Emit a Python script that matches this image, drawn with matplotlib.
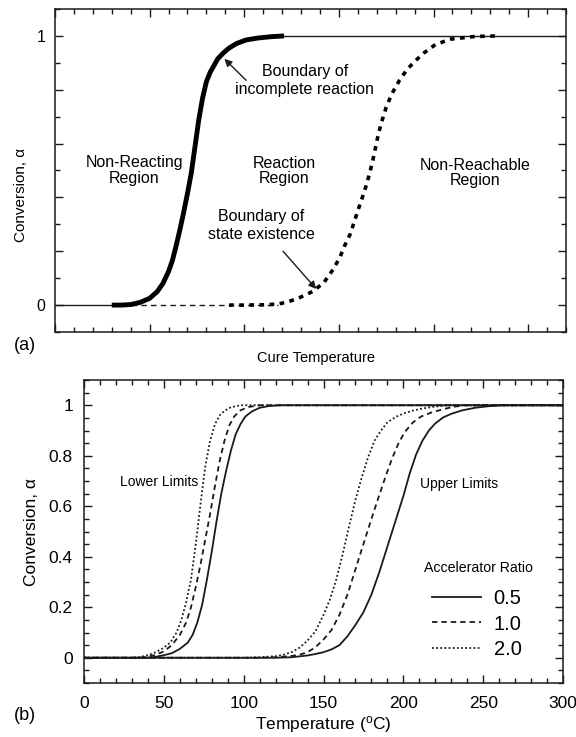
import numpy as np
import matplotlib
matplotlib.use("Agg")
import matplotlib.pyplot as plt
from matplotlib.ticker import MultipleLocator, FixedLocator, FixedFormatter

plt.rcParams['font.family'] = ['Liberation Sans', 'DejaVu Sans']
plt.rcParams['mathtext.fontset'] = 'custom'
plt.rcParams['mathtext.rm'] = 'Liberation Sans'

INK = '#1a1a1a'

# ---------------- panel (a): cure diagram (arbitrary temperature scale) -------------
# boundary of incomplete reaction (thick curve)
low_T = [30, 35, 40, 45, 50, 54, 57, 60, 62, 64, 66, 68, 70, 72, 74, 76, 78, 80,
         82, 84, 86, 89, 92, 96, 101, 107, 114, 121]
low_a = [0, 0, 0.002, 0.01, 0.025, 0.05, 0.08, 0.125, 0.165, 0.22, 0.28, 0.345,
         0.415, 0.49, 0.59, 0.69, 0.77, 0.83, 0.865, 0.89, 0.915, 0.937, 0.955,
         0.972, 0.985, 0.992, 0.997, 1.0]
# boundary of state existence (thick dashed curve)
up_T = [92, 100, 110, 118, 123, 129, 136, 142, 147, 150.5, 153, 156, 158, 160.3,
        162.4, 164.7, 166.4, 168, 169.5, 171, 173, 175, 178, 182, 186, 190, 195,
        201, 209, 222, 234]
up_a = [0, 0, 0.001, 0.004, 0.012, 0.027, 0.05, 0.083, 0.133, 0.177, 0.22, 0.264,
        0.307, 0.357, 0.4, 0.45, 0.494, 0.54, 0.59, 0.64, 0.69, 0.735, 0.785,
        0.835, 0.875, 0.905, 0.937, 0.968, 0.988, 0.998, 1.0]
# thin guide lines
base_T = [0, 40]
base_a = [0, 0]
gap_T = [40, 118]
gap_a = [0, 0]
top_T = [110, 270]
top_a = [1, 1]

# ---------------- panel (b): limits for accelerator ratios ----------------
ratios = ['0.5', '1.0', '2.0']
styles = ['-', (0, (3.0, 2.2)), (0, (1.0, 1.3))]

lower_T = {
    '0.5': [0, 40, 45, 50, 55, 60, 65, 68, 71, 74, 77, 80, 83, 86, 89, 92, 95, 98,
            101, 105, 110, 116, 123, 300],
    '1.0': [0, 35, 40, 45, 50, 55, 60, 64, 67, 70, 73, 76, 79, 82, 85, 88, 91, 94,
            98, 103, 110, 300],
    '2.0': [0, 30, 35, 40, 45, 50, 54, 58, 61, 64, 67, 70, 73, 76, 79, 82, 85, 88,
            92, 98, 300],
}
lower_a = {
    '0.5': [0, 0, 0.004, 0.01, 0.018, 0.035, 0.06, 0.09, 0.14, 0.21, 0.31, 0.42,
            0.54, 0.65, 0.74, 0.82, 0.885, 0.925, 0.955, 0.975, 0.99, 0.997, 1, 1],
    '1.0': [0, 0, 0.004, 0.012, 0.025, 0.05, 0.09, 0.14, 0.2, 0.28, 0.37, 0.47,
            0.57, 0.68, 0.78, 0.86, 0.92, 0.955, 0.98, 0.993, 1, 1],
    '2.0': [0, 0, 0.003, 0.01, 0.022, 0.04, 0.06, 0.1, 0.15, 0.22, 0.31, 0.45,
            0.61, 0.76, 0.86, 0.925, 0.96, 0.978, 0.992, 1, 1],
}
upper_T = {
    '0.5': [0, 120, 130, 140, 145, 150, 155, 160, 165, 170, 175, 180, 185, 190,
            195, 200, 204, 208, 212, 216, 220, 225, 230, 237, 245, 253, 262, 300],
    '1.0': [0, 110, 120, 130, 135, 140, 145, 150, 155, 160, 165, 170, 175, 180,
            185, 189, 193, 197, 201, 206, 211, 217, 223, 230, 238, 300],
    '2.0': [0, 100, 110, 120, 125, 130, 135, 140, 145, 150, 154, 158, 162, 166,
            170, 174, 178, 182, 186, 190, 195, 200, 206, 212, 220, 228, 300],
}
upper_a = {
    '0.5': [0, 0, 0.002, 0.009, 0.015, 0.022, 0.033, 0.05, 0.085, 0.13, 0.18, 0.25,
            0.34, 0.44, 0.54, 0.64, 0.73, 0.805, 0.86, 0.9, 0.928, 0.952, 0.966,
            0.98, 0.99, 0.996, 1, 1],
    '1.0': [0, 0, 0.002, 0.007, 0.012, 0.022, 0.042, 0.072, 0.11, 0.17, 0.25, 0.35,
            0.45, 0.55, 0.645, 0.72, 0.79, 0.85, 0.895, 0.932, 0.955, 0.97, 0.981,
            0.992, 1, 1],
    '2.0': [0, 0, 0.002, 0.006, 0.012, 0.022, 0.04, 0.068, 0.105, 0.17, 0.23, 0.31,
            0.41, 0.52, 0.625, 0.715, 0.795, 0.86, 0.9, 0.932, 0.953, 0.967, 0.979,
            0.987, 0.995, 1, 1],
}


def style_axes(ax):
    for s in ax.spines.values():
        s.set_linewidth(1.1)
        s.set_color(INK)
    ax.tick_params(which='both', direction='in', top=True, right=True,
                   color=INK, width=1.0)
    ax.tick_params(which='major', length=6)
    ax.tick_params(which='minor', length=3.5)


fig = plt.figure(figsize=(5.76, 7.37), dpi=100)
W, H = 576.0, 737.0

# ---- (a)
ax1 = fig.add_axes([55 / W, 1 - 332 / H, 511 / W, 323 / H])
ax1.plot(base_T, base_a, '-', color=INK, lw=1.0)
ax1.plot(gap_T, gap_a, color=INK, lw=1.0, ls=(0, (4, 3)))
ax1.plot(top_T, top_a, '-', color=INK, lw=1.0)
ax1.plot(low_T, low_a, '-', color='black', lw=3.5, solid_capstyle='butt')
ax1.plot(up_T, up_a, color='black', lw=2.6, ls=(0, (1.3, 1.5)),
         dash_capstyle='butt')

ax1.set_xlim(0, 270)
ax1.set_ylim(-0.1, 1.1)
ax1.xaxis.set_major_locator(MultipleLocator(50))
ax1.xaxis.set_minor_locator(MultipleLocator(10))
ax1.set_xticklabels([])
ax1.yaxis.set_major_locator(FixedLocator([0, 0.2, 0.4, 0.6, 0.8, 1.0]))
ax1.yaxis.set_major_formatter(FixedFormatter(['0', '', '', '', '', '1']))
ax1.yaxis.set_minor_locator(MultipleLocator(0.1))
style_axes(ax1)
ax1.tick_params(axis='y', labelsize=11.5, pad=7)
ax1.set_xlabel('Cure Temperature', fontsize=10.5)
ax1.xaxis.set_label_coords(0.51, -0.06)
ax1.set_ylabel('Conversion, α', fontsize=11)
ax1.yaxis.set_label_coords(-0.052, 0.424)

ax1.text(42, 0.5, 'Non-Reacting\nRegion', ha='center', va='center',
         fontsize=11.5, linespacing=1.0)
ax1.text(121, 0.5, 'Reaction\nRegion', ha='center', va='center',
         fontsize=11.5, linespacing=1.0)
ax1.text(222, 0.49, 'Non-Reachable\nRegion', ha='center', va='center',
         fontsize=11.5, linespacing=1.0)
ax1.text(132, 0.835, 'Boundary of\nincomplete reaction', ha='center',
         va='center', fontsize=11.5, linespacing=1.25)
ax1.annotate('', xy=(89.5, 0.915), xytext=(101, 0.835),
             arrowprops=dict(arrowstyle='-|>', color=INK, lw=1.0,
                             mutation_scale=11, shrinkA=0, shrinkB=0))
ax1.text(109, 0.295, 'Boundary of\nstate existence', ha='center',
         va='center', fontsize=11.5, linespacing=1.25)
ax1.annotate('', xy=(138, 0.06), xytext=(120.5, 0.2),
             arrowprops=dict(arrowstyle='-|>', color=INK, lw=1.0,
                             mutation_scale=11, shrinkA=0, shrinkB=0))
fig.text(25 / W, 1 - 346 / H, '(a)', fontsize=13, ha='center', va='center')

# ---- (b)
ax2 = fig.add_axes([84 / W, 1 - 683 / H, 479 / W, 303 / H])
handles = []
for r, ls in zip(ratios, styles):
    h, = ax2.plot(lower_T[r], lower_a[r], color=INK, lw=1.3, ls=ls)
    ax2.plot(upper_T[r], upper_a[r], color=INK, lw=1.3, ls=ls)
    handles.append(h)

ax2.set_xlim(0, 300)
ax2.set_ylim(-0.1, 1.1)
ax2.xaxis.set_major_locator(MultipleLocator(50))
ax2.xaxis.set_minor_locator(MultipleLocator(10))
ax2.yaxis.set_major_locator(FixedLocator([0, 0.2, 0.4, 0.6, 0.8, 1.0]))
ax2.yaxis.set_major_formatter(FixedFormatter(['0', '0.2', '0.4', '0.6', '0.8', '1']))
ax2.yaxis.set_minor_locator(MultipleLocator(0.05))
style_axes(ax2)
ax2.tick_params(axis='both', labelsize=12.5)
ax2.tick_params(axis='x', pad=9)
ax2.tick_params(axis='y', pad=8)
ax2.set_xlabel(r'Temperature ($\mathregular{^{o}}$C)', fontsize=12.5, labelpad=2.5)
ax2.set_ylabel('Conversion, α', fontsize=12.5)
ax2.yaxis.set_label_coords(-0.094, 0.5)

ax2.text(47, 0.695, 'Lower Limits', ha='center', va='center', fontsize=10)
ax2.text(235, 0.688, 'Upper Limits', ha='center', va='center', fontsize=10)
ax2.text(247, 0.357, 'Accelerator Ratio', ha='center', va='center', fontsize=10.2)
leg = ax2.legend(handles, ratios, loc='upper left',
                 bbox_to_anchor=(0.726, 0.31), frameon=False, fontsize=14.5,
                 handlelength=2.44, handletextpad=0.63, labelspacing=0.32,
                 borderpad=0, borderaxespad=0)
fig.text(25 / W, 1 - 716 / H, '(b)', fontsize=13, ha='center', va='center')

fig.savefig('out.png', dpi=100)
